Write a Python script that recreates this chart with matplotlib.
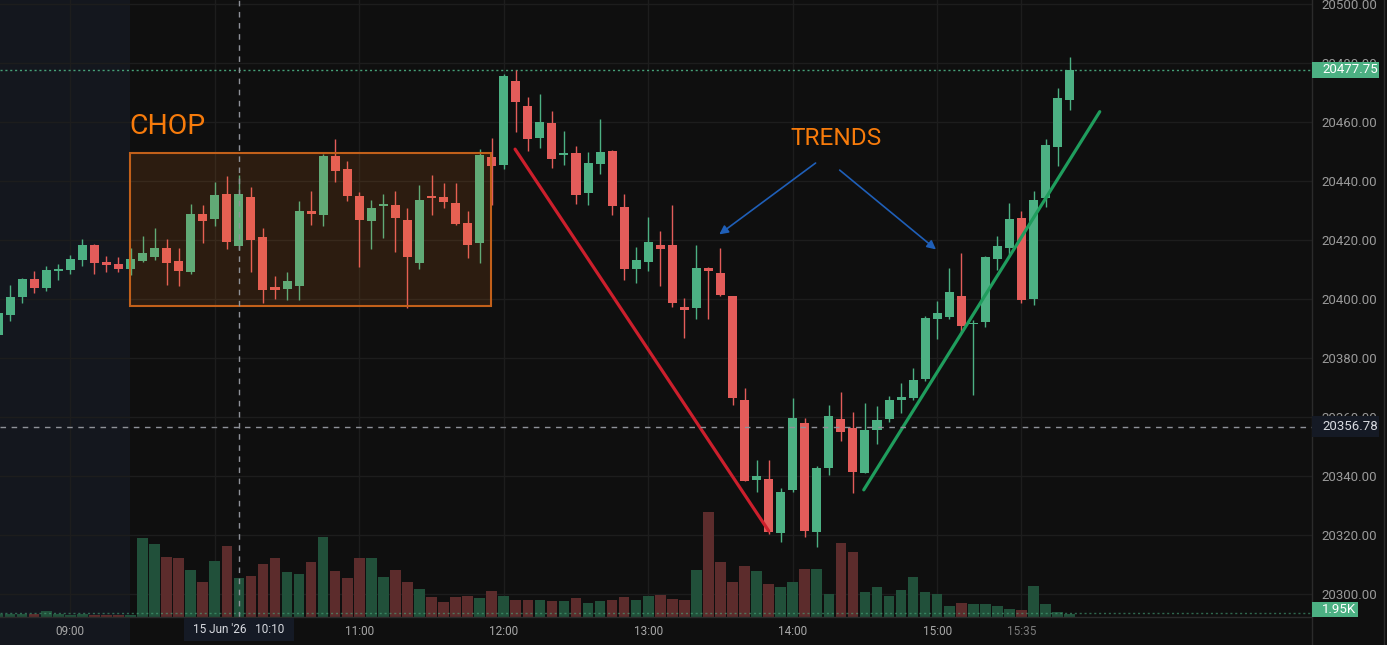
import numpy as np
import matplotlib
matplotlib.use('Agg')
import matplotlib.pyplot as plt
from matplotlib.patches import Rectangle
from matplotlib.lines import Line2D
from matplotlib.transforms import blended_transform_factory as blend

plt.rcParams['font.family'] = ['Roboto', 'DejaVu Sans']

# ---- data: 5 minute bars, bar index 0 = 09:00 ----
bar_idx = np.arange(-6, 84)

opens = [20388.0, 20394.75, 20400.75, 20407.0, 20403.75, 20409.75, 20410.0, 20413.25, 20418.5, 20412.5,
         20412.0, 20410.25, 20413.0, 20414.25, 20417.5, 20413.0, 20409.25, 20429.0, 20427.25, 20435.75,
         20418.0, 20434.75, 20421.0, 20404.25, 20403.5, 20404.5, 20430.0, 20428.5, 20448.5, 20444.25,
         20435.0, 20426.5, 20431.75, 20432.0, 20427.0, 20412.25, 20435.0, 20434.75, 20432.5, 20426.0,
         20419.0, 20448.25, 20445.5, 20474.0, 20465.5, 20454.75, 20459.75, 20449.0, 20449.5, 20436.0,
         20446.0, 20450.25, 20431.25, 20410.25, 20412.5, 20418.5, 20418.5, 20397.5, 20397.0, 20410.5,
         20409.0, 20401.0, 20366.0, 20338.75, 20339.0, 20320.75, 20335.5, 20358.0, 20321.0, 20342.75,
         20359.5, 20356.5, 20341.0, 20355.75, 20359.5, 20366.0, 20366.5, 20373.0, 20393.25, 20394.0,
         20401.0, 20391.5, 20392.25, 20413.75, 20417.5, 20427.5, 20400.0, 20434.25, 20451.5, 20467.5]
highs = [20397.0, 20404.75, 20407.25, 20409.5, 20411.25, 20412.0, 20415.0, 20420.5, 20418.75, 20414.75,
         20414.25, 20417.5, 20421.5, 20424.25, 20420.5, 20417.5, 20432.25, 20432.0, 20439.75, 20441.75,
         20442.0, 20438.0, 20424.25, 20408.0, 20409.25, 20433.25, 20436.75, 20449.25, 20454.25, 20447.0,
         20436.5, 20433.75, 20435.75, 20436.75, 20431.0, 20438.75, 20442.0, 20439.5, 20439.5, 20430.0,
         20451.0, 20454.75, 20476.5, 20477.75, 20468.5, 20469.5, 20463.75, 20457.0, 20452.0, 20450.0,
         20461.0, 20450.75, 20435.75, 20417.75, 20428.0, 20423.25, 20432.0, 20400.5, 20418.5, 20411.0,
         20417.5, 20401.25, 20370.0, 20345.5, 20345.5, 20336.0, 20366.5, 20359.75, 20343.5, 20364.25,
         20368.5, 20361.75, 20364.75, 20363.75, 20367.25, 20371.5, 20376.75, 20394.25, 20399.5, 20410.5,
         20415.75, 20393.0, 20414.75, 20421.5, 20432.5, 20430.0, 20436.75, 20454.25, 20471.5, 20482.0]
lows = [20386.0, 20392.75, 20398.75, 20402.25, 20402.75, 20406.5, 20408.5, 20411.25, 20408.5, 20409.25,
        20409.25, 20408.25, 20412.5, 20413.25, 20404.75, 20404.5, 20408.5, 20419.0, 20424.75, 20417.0,
        20416.75, 20409.25, 20398.75, 20400.0, 20399.75, 20399.75, 20425.25, 20424.75, 20439.75, 20433.25,
        20411.0, 20417.0, 20420.75, 20416.0, 20397.0, 20410.25, 20428.5, 20431.0, 20425.25, 20414.0,
        20412.25, 20432.0, 20444.25, 20456.75, 20450.25, 20451.25, 20444.5, 20445.5, 20432.25, 20432.0,
        20442.5, 20428.5, 20406.5, 20405.5, 20409.5, 20404.5, 20397.5, 20387.0, 20393.25, 20393.25,
        20401.25, 20364.25, 20338.25, 20334.75, 20320.5, 20317.75, 20334.75, 20319.5, 20316.0, 20340.5,
        20352.0, 20334.25, 20341.0, 20351.0, 20358.5, 20361.5, 20366.0, 20372.25, 20386.5, 20393.25,
        20389.0, 20367.5, 20390.5, 20410.0, 20415.0, 20398.75, 20398.0, 20431.25, 20445.25, 20464.25]
closes = [20395.5, 20400.75, 20406.75, 20403.75, 20410.0, 20410.25, 20413.75, 20418.5, 20412.25, 20411.5,
          20410.25, 20413.75, 20415.75, 20417.5, 20412.25, 20409.5, 20429.0, 20426.5, 20435.5, 20419.5,
          20435.75, 20420.0, 20403.25, 20403.25, 20406.25, 20430.0, 20429.0, 20448.5, 20443.5, 20435.0,
          20427.0, 20431.0, 20432.25, 20427.5, 20414.25, 20433.75, 20434.25, 20433.0, 20425.5, 20418.5,
          20449.0, 20445.25, 20475.75, 20467.0, 20454.25, 20460.0, 20447.5, 20449.5, 20435.5, 20446.25,
          20450.0, 20431.5, 20410.25, 20413.25, 20419.5, 20417.0, 20398.75, 20396.5, 20410.5, 20409.5,
          20401.5, 20366.5, 20338.5, 20340.0, 20321.0, 20334.75, 20359.75, 20321.5, 20342.75, 20360.5,
          20355.0, 20341.5, 20355.75, 20359.0, 20366.0, 20367.0, 20372.5, 20393.75, 20395.5, 20402.5,
          20391.0, 20392.0, 20414.5, 20418.0, 20427.25, 20399.75, 20433.75, 20452.25, 20468.25, 20477.75]
volume_k = [1.9, 1.9, 1.9, 1.9, 3.3, 1.9, 1.0, 1.5, 1.0, 1.0,
            1.0, 1.0, 45.2, 41.8, 34.3, 33.7, 26.8, 19.9, 32.0, 40.6,
            22.2, 23.4, 30.3, 33.7, 25.7, 24.5, 31.4, 45.8, 26.3, 22.2,
            33.7, 33.7, 22.8, 26.8, 19.9, 15.9, 11.3, 8.4, 11.3, 11.9,
            10.7, 14.8, 11.9, 9.6, 9.6, 9.6, 9.0, 9.0, 10.7, 7.9,
            9.0, 9.6, 11.3, 9.6, 11.9, 12.5, 10.2, 9.6, 26.8, 60.2,
            31.4, 19.9, 29.1, 26.3, 18.8, 17.1, 19.9, 27.4, 27.4, 13.0,
            42.4, 37.2, 14.2, 17.1, 11.9, 15.3, 22.8, 14.2, 13.0, 6.1,
            7.9, 7.3, 7.3, 6.1, 4.4, 3.85, 17.6, 7.3, 2.7, 1.95]

time_ticks = [0, 12, 24, 36, 48, 60, 72, 79]
time_labels = ['09:00', '', '11:00', '12:00', '13:00', '14:00', '15:00', '15:35']
price_ticks = np.arange(20300, 20501, 20)

last_price = 20477.75
cross_price = 20356.78
cross_bar = 14
cross_label = "15 Jun '26   10:10"
session_edge = 4.97                           # end of pre-market shading
chop_box = (4.96, 34.94, 20397.75, 20449.5)   # x0, x1, y0, y1
down_trend = ([36.94, 58.0], [20450.9, 20321.5])
up_trend = ([65.9, 85.5], [20335.4, 20463.6])
arrows = [((61.9, 20446.2), (53.9, 20422.0)),
          ((63.9, 20443.8), (71.9, 20416.9))]

# ---- colours ----
BG = '#0f0f0f'
PRE = '#14171e'
GRID = '#1d1d1d'
UP = '#4cb083'
DN = '#e35c5a'
VUP = '#21503a'
VDN = '#5c2c2c'
ORANGE = '#f77b0b'
BOX_EDGE = '#c2601a'
SEP = '#2b2b2b'
TXT = '#9a9a9a'

W, H = 1387, 645
fig = plt.figure(figsize=(W / 100, H / 100), dpi=100, facecolor=BG)
rect = [0, 28 / H, 1312 / W, 617 / H]
axv = fig.add_axes(rect)      # volume + background layer
ax = fig.add_axes(rect)       # price layer
ax.set_zorder(1)
ax.patch.set_visible(False)
axv.set_facecolor(BG)

xlim = (-5.84, 103.13)
ylim = (20292.3, 20501.46)
for a in (ax, axv):
    a.set_xlim(xlim)
    for s in a.spines.values():
        s.set_visible(False)
ax.set_ylim(ylim)
axv.set_ylim(0, 354.6)
axv.set_xticks([])
axv.set_yticks([])

# background: pre-market shade and grid
axv.axvspan(xlim[0] - 1, session_edge, color=PRE, lw=0, zorder=0)
fig.add_artist(Rectangle((xlim[0], 0), session_edge - xlim[0], 28 / H,
                         transform=blend(ax.transData, fig.transFigure),
                         facecolor=PRE, lw=0, zorder=-1))
for t in time_ticks:
    axv.axvline(t, color=GRID, lw=1, zorder=1)
for p in price_ticks:
    axv.plot(xlim, [p, p], color=GRID, lw=1, zorder=1,
             transform=blend(axv.transData, ax.transData))

o = np.array(opens)
c = np.array(closes)
up = c >= o
cols = np.where(up, UP, DN)

# volume
axv.bar(bar_idx, volume_k, width=0.88, color=np.where(up, VUP, VDN), lw=0, zorder=2)
axv.axhline(volume_k[-1] + 0.6, color=UP, lw=1, ls=(0, (1.5, 2)), alpha=0.55, zorder=3)

# candles
ax.vlines(bar_idx, lows, highs, colors=cols, lw=1, zorder=3)
ax.bar(bar_idx, np.maximum(np.abs(c - o), 0.35), bottom=np.minimum(o, c),
       width=0.75, color=cols, lw=0, zorder=4)

ax.axhline(last_price, color=UP, lw=1, ls=(0, (1.5, 2)), alpha=0.9, zorder=2)

# drawings
x0, x1, y0, y1 = chop_box
ax.add_patch(Rectangle((x0, y0), x1 - x0, y1 - y0, facecolor=(1.0, 0.5, 0.1, 0.12),
                       edgecolor=BOX_EDGE, lw=1.5, zorder=5))
ax.text(4.875, 20455.9, 'CHOP', color=ORANGE, fontsize=20.5, va='baseline', ha='left', zorder=6)
ax.text(59.78, 20452.3, 'TRENDS', color=ORANGE, fontsize=17.6, va='baseline', ha='left', zorder=6)
ax.plot(*down_trend, color='#cc1f2c', lw=2.3, solid_capstyle='round', zorder=6)
ax.plot(*up_trend, color='#1f9d5d', lw=2.3, solid_capstyle='round', zorder=6)
for start, tip in arrows:
    ax.annotate('', xy=tip, xytext=start, zorder=6,
                arrowprops=dict(arrowstyle='-|>', color='#1f5fb8', lw=1.2,
                                mutation_scale=13, shrinkA=0, shrinkB=0))

# crosshair
ax.axhline(cross_price, color='#8f9299', lw=1, ls=(0, (4, 4)), zorder=7)
ax.axvline(cross_bar, color='#8f9299', lw=1, ls=(0, (4, 4)), zorder=7)

# axes text
ax.yaxis.tick_right()
ax.set_yticks(price_ticks)
ax.set_yticklabels(['%.2f' % p for p in price_ticks])
ax.tick_params(axis='y', length=0, pad=7, labelsize=9.5, labelcolor=TXT)
ax.set_xticks(time_ticks)
ax.set_xticklabels(time_labels)
ax.tick_params(axis='x', length=0, pad=6, labelsize=8.5, labelcolor='#a8a8a8')
ax.get_xticklabels()[-1].set_color('#7a7a7a')

# separators
fig.add_artist(Line2D([1312 / W] * 2, [0, 1], color=SEP, lw=1, zorder=5))
fig.add_artist(Line2D([1384 / W] * 2, [0, 1], color=SEP, lw=1, zorder=5))
fig.add_artist(Line2D([0, 1312 / W], [28 / H] * 2, color=SEP, lw=1, zorder=5))

# price scale labels
tp = blend(fig.transFigure, ax.transData)
fig.add_artist(Rectangle((1312 / W, last_price - 2.8), 67 / W, 5.6, transform=tp,
                         facecolor=UP, lw=0, zorder=10))
fig.text(1322 / W, last_price, '%.2f' % last_price, transform=tp, color='white',
         fontsize=9.5, va='center', ha='left', zorder=11)
fig.add_artist(Rectangle((1312 / W, cross_price - 3.5), 67 / W, 7.0, transform=tp,
                         facecolor='#151a25', lw=0, zorder=10))
fig.text(1322 / W, cross_price, '%.2f' % cross_price, transform=tp, color='#d8dae0',
         fontsize=9.5, va='center', ha='left', zorder=11)
tv = blend(fig.transFigure, axv.transData)
fig.add_artist(Rectangle((1312 / W, 0.1), 46 / W, 8.6, transform=tv,
                         facecolor=UP, lw=0, zorder=10))
fig.text(1322 / W, 4.4, '%.2fK' % volume_k[-1], transform=tv, color='white',
         fontsize=9.5, va='center', ha='left', zorder=11)

# crosshair time label
tt = blend(ax.transData, fig.transFigure)
fig.add_artist(Rectangle((cross_bar - 55 / 12.04, 4 / H), 110 / 12.04, 23 / H, transform=tt,
                         facecolor='#151a25', lw=0, zorder=10))
fig.text(cross_bar, 15.5 / H, cross_label, transform=tt, color='#d8dae0',
         fontsize=8.5, va='center', ha='center', zorder=11)

fig.savefig('out.png', dpi=100, facecolor=BG)
